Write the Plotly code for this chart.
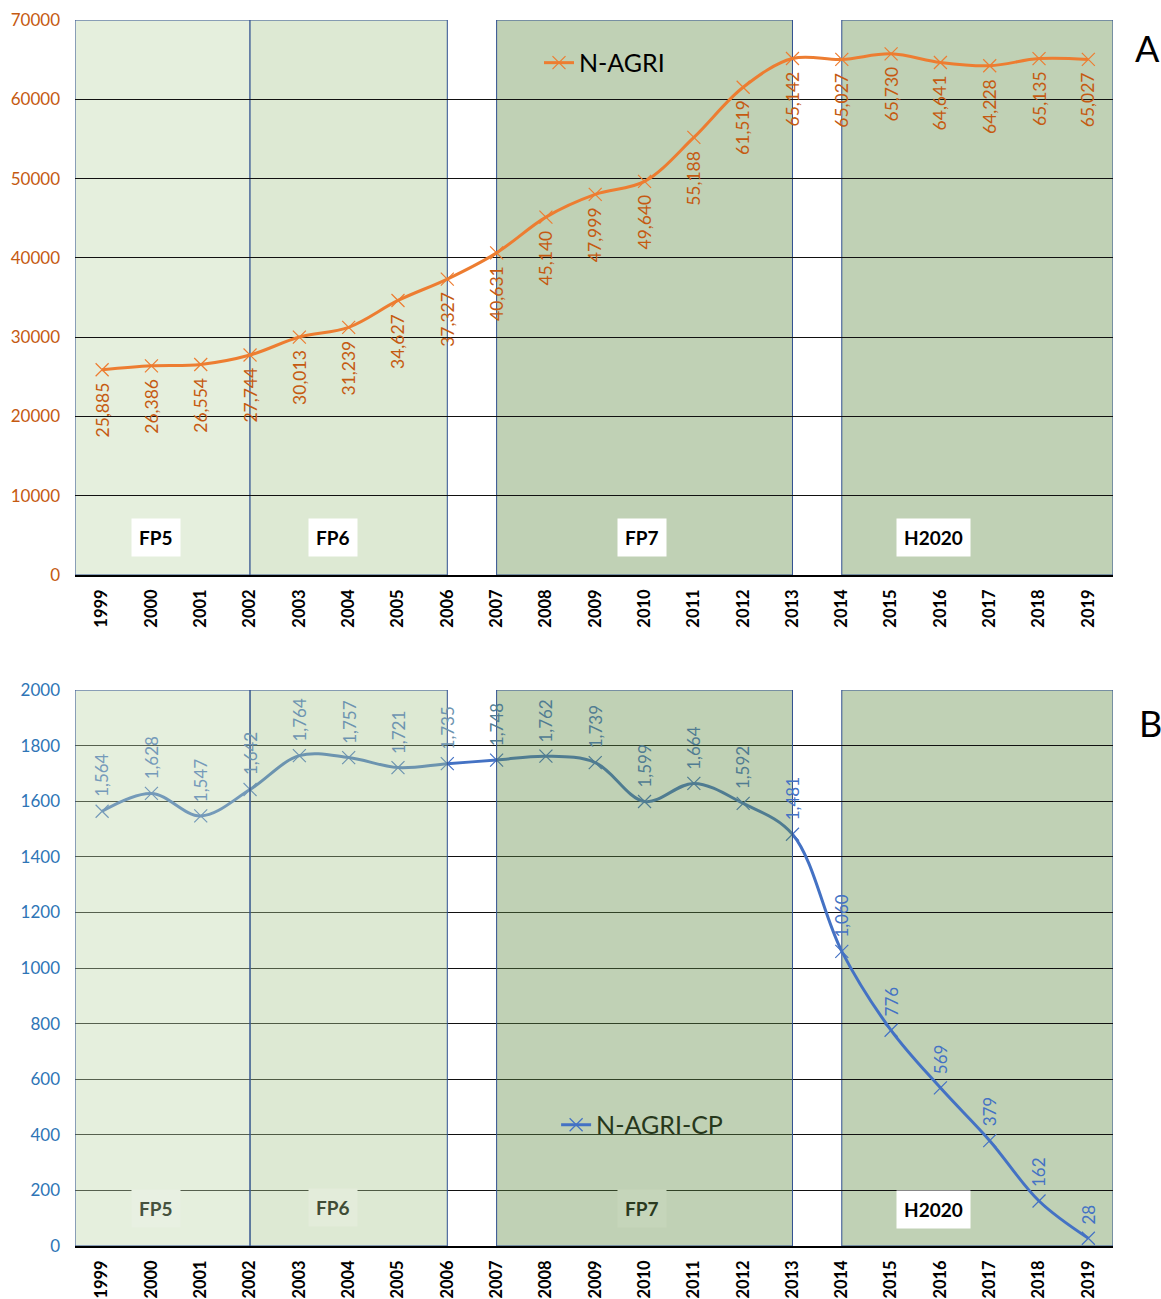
import plotly.graph_objects as go

# Data
years = list(range(1999, 2020))
n_agri = [25885, 26386, 26554, 27744, 30013, 31239, 34627, 37327, 40631, 45140,
          47999, 49640, 55188, 61519, 65142, 65027, 65730, 64641, 64228, 65135, 65027]
n_agri_cp = [1564, 1628, 1547, 1642, 1764, 1757, 1721, 1735, 1748, 1762,
             1739, 1599, 1664, 1592, 1481, 1060, 776, 569, 379, 162, 28]

# Framework programme periods (label, start, end, label x)
periods = [
    ("FP5", 1998.45, 2002, 2000.1),
    ("FP6", 2002, 2006, 2003.68),
    ("FP7", 2007, 2013, 2009.95),
    ("H2020", 2014, 2019.5, 2015.85),
]

FONT = "Lato"
ORANGE = "#ED7D31"
BLUE = "#4472C4"
BORDER = "#2F4F8F"
fills_top = {"FP5": "#E5EFDD", "FP6": "#DDE9D3", "FP7": "#C0D1B5", "H2020": "#C0D1B5"}
# overlay colours for the lower chart (drawn above the line, semi transparent)
overlay = {"FP5": "#BED7AA", "FP6": "#AAC891", "FP7": "#618C46"}
label_tint = {"FP5": "#759ABA", "FP6": "#6D94B0", "FP7": "#507C92"}
box_bg = {"FP5": "#E8F0E2", "FP6": "#E3ECDA", "FP7": "#C5D5BA"}
box_txt = {"FP5": "#46523E", "FP6": "#404C36", "FP7": "#2A3A20"}


def region_of(y):
    if y < 2002:
        return "FP5"
    if y <= 2006:
        return "FP6"
    if y <= 2012:
        return "FP7"
    return None


fig = go.Figure()

fig.add_trace(go.Scatter(
    x=years, y=n_agri, name="N-AGRI", mode="lines+markers", showlegend=True,
    line=dict(color=ORANGE, width=3, shape="spline", smoothing=1),
    marker=dict(symbol="x-thin", size=13, line=dict(color=ORANGE, width=1.2)),
    xaxis="x", yaxis="y", legend="legend",
))
fig.add_trace(go.Scatter(
    x=years, y=n_agri_cp, name="N-AGRI-CP", mode="lines+markers", showlegend=True,
    line=dict(color=BLUE, width=3, shape="spline", smoothing=1),
    marker=dict(symbol="x-thin", size=13, line=dict(color=BLUE, width=1.2)),
    xaxis="x2", yaxis="y2", legend="legend2",
))

shapes = []
annotations = []

# Top chart regions (below grid)
for name, x0, x1, lx in periods:
    shapes.append(dict(type="rect", xref="x", yref="y", x0=x0, x1=x1, y0=0, y1=70000,
                       fillcolor=fills_top[name], line=dict(color=BORDER, width=1), layer="below"))
    annotations.append(dict(x=lx, y=4700, xref="x", yref="y", text="<b>%s</b>" % name,
                            showarrow=False, bgcolor="white", borderpad=7,
                            font=dict(family=FONT, size=19, color="black")))

# Bottom chart regions
for name, x0, x1, lx in periods:
    if name == "H2020":
        shapes.append(dict(type="rect", xref="x2", yref="y2", x0=x0, x1=x1, y0=0, y1=2000,
                           fillcolor=fills_top[name], line=dict(color=BORDER, width=1), layer="below"))
        annotations.append(dict(x=lx, y=130, xref="x2", yref="y2", text="<b>%s</b>" % name,
                                showarrow=False, bgcolor="white", borderpad=7,
                                font=dict(family=FONT, size=19, color="black")))
    else:
        shapes.append(dict(type="rect", xref="x2", yref="y2", x0=x0, x1=x1, y0=0, y1=2000,
                           fillcolor=overlay[name], opacity=0.4, line=dict(width=0), layer="above"))
        shapes.append(dict(type="rect", xref="x2", yref="y2", x0=x0, x1=x1, y0=0, y1=2000,
                           fillcolor="rgba(0,0,0,0)", line=dict(color=BORDER, width=1), layer="above"))
        annotations.append(dict(x=lx, y=134 if name != "FP6" else 140, xref="x2", yref="y2",
                                text="<b>%s</b>" % name, showarrow=False, bgcolor=box_bg[name],
                                borderpad=7, font=dict(family=FONT, size=19, color=box_txt[name])))

# Data labels
for yr, v in zip(years, n_agri):
    annotations.append(dict(x=yr, y=v, xref="x", yref="y", text=f"{v:,}", textangle=-90,
                            showarrow=False, yanchor="top", yshift=-11,
                            font=dict(family=FONT, size=17.5, color="#C55A11")))
for yr, v in zip(years, n_agri_cp):
    reg = region_of(yr)
    col = label_tint[reg] if reg else BLUE
    annotations.append(dict(x=yr, y=v, xref="x2", yref="y2", text=f"{v:,}", textangle=-90,
                            showarrow=False, yanchor="bottom", yshift=12,
                            font=dict(family=FONT, size=17, color=col)))

annotations.append(dict(x=1.0328, y=0.977, xref="paper", yref="paper", text="A", showarrow=False,
                        xanchor="center", yanchor="middle",
                        font=dict(family=FONT, size=36, color="black")))
annotations.append(dict(x=1.0366, y=0.4266, xref="paper", yref="paper", text="B", showarrow=False,
                        xanchor="center", yanchor="middle",
                        font=dict(family=FONT, size=36, color="black")))

xaxis_common = dict(range=[1998.45, 2019.5], tickmode="linear", dtick=1, tick0=1999,
                    tickangle=-90, showgrid=False, zeroline=False, showline=True,
                    linecolor="black", linewidth=1.5, ticks="", ticklabelstandoff=6,
                    automargin=False,
                    tickfont=dict(family=FONT, size=16.5, color="black", weight="bold"))
yaxis_common = dict(showgrid=True, gridcolor="#111111", gridwidth=1, zeroline=False,
                    showline=False, ticks="", ticklabelstandoff=14, tickformat="d",
                    automargin=False)

fig.update_layout(
    width=1161, height=1299,
    margin=dict(l=75, r=48, t=20, b=53),
    paper_bgcolor="white", plot_bgcolor="white",
    font=dict(family=FONT),
    showlegend=True,
    xaxis=dict(domain=[0, 1], anchor="y", **xaxis_common),
    yaxis=dict(domain=[0.5473, 1], anchor="x", range=[0, 70000], dtick=10000,
               tickfont=dict(family=FONT, size=17, color="#C55A11"), **yaxis_common),
    xaxis2=dict(domain=[0, 1], anchor="y2", **xaxis_common),
    yaxis2=dict(domain=[0, 0.4535], anchor="x2", range=[0, 2000], dtick=200,
                tickfont=dict(family=FONT, size=17, color="#2E75B6"), **yaxis_common),
    legend=dict(x=0.447, y=0.965, xanchor="left", yanchor="middle", bgcolor="rgba(0,0,0,0)",
                font=dict(family=FONT, size=25, color="black")),
    legend2=dict(x=0.4635, y=0.0987, xanchor="left", yanchor="middle", bgcolor="rgba(0,0,0,0)",
                 font=dict(family=FONT, size=25, color="#27381C")),
    shapes=shapes,
    annotations=annotations,
)

# drop the default page margin so the figure fills the window exactly
fig.write_html("out.html", config={"displayModeBar": False},
               post_script="document.body.style.margin='0';document.body.style.overflow='hidden';")
